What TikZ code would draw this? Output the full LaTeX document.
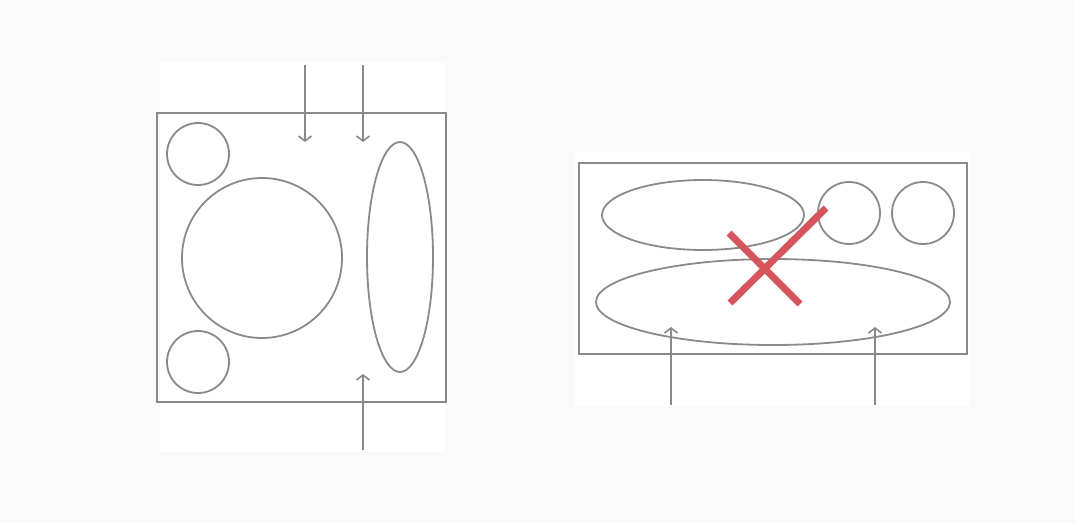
\documentclass[tikz,border=0pt]{standalone}
\usetikzlibrary{shapes.geometric,arrows.meta}
\definecolor{ink}{HTML}{8A8A8A}
\definecolor{bg}{HTML}{FAFAFA}
\definecolor{cross}{HTML}{D6545C}
\begin{document}
\begin{tikzpicture}[x=1pt,y=-1pt,
  shp/.style={draw=ink,line width=1.8pt,inner sep=0pt},
  circ/.style={shp,circle,minimum size=#1},
  ell/.style={shp,ellipse},
  frame/.style={draw=ink,line width=1.8pt},
  flow/.style={draw=ink,line width=1.6pt,-{Straight Barb[length=5pt,width=13pt]}},
  xline/.style={draw=cross,line width=7pt}]
\fill[bg] (0,0) rectangle (1075,523);
\useasboundingbox (0,0) rectangle (1075,523);
\fill[white] (160,62) rectangle (445,452);
\fill[white] (575,152) rectangle (970,406);
% left figure
\draw[frame] (157,113) rectangle (446,402);
\node[circ=62pt] (c1) at (198,154) {};
\node[circ=160pt] (c2) at (262,258) {};
\node[circ=62pt] (c3) at (198,362) {};
\node[ell,minimum width=66pt,minimum height=230pt] (e1) at (400,257) {};
\coordinate (a1s) at (305,65);
\coordinate (a1e) at (305,142);
\coordinate (a2s) at (363,65);
\coordinate (a2e) at (363,142);
\coordinate (a3s) at (363,450);
\coordinate (a3e) at (363,374);
\draw[flow] (a1s) -- (a1e);
\draw[flow] (a2s) -- (a2e);
\draw[flow] (a3s) -- (a3e);
% right figure
\draw[frame] (579,163) rectangle (967,354);
\node[ell,minimum width=202pt,minimum height=70pt] (e2) at (703,215) {};
\node[circ=62pt] (c4) at (849,213) {};
\node[circ=62pt] (c5) at (923,213) {};
\node[ell,minimum width=354pt,minimum height=86pt] (e3) at (773,302) {};
\coordinate (b1s) at (671,405);
\coordinate (b1e) at (671,327);
\coordinate (b2s) at (875,405);
\coordinate (b2e) at (875,327);
\draw[flow] (b1s) -- (b1e);
\draw[flow] (b2s) -- (b2e);
\coordinate (x1a) at (729,233);
\coordinate (x1b) at (800,304);
\coordinate (x2a) at (730,303);
\coordinate (x2b) at (826,208);
\draw[xline] (x1a) -- (x1b);
\draw[xline] (x2a) -- (x2b);
\end{tikzpicture}
\end{document}
